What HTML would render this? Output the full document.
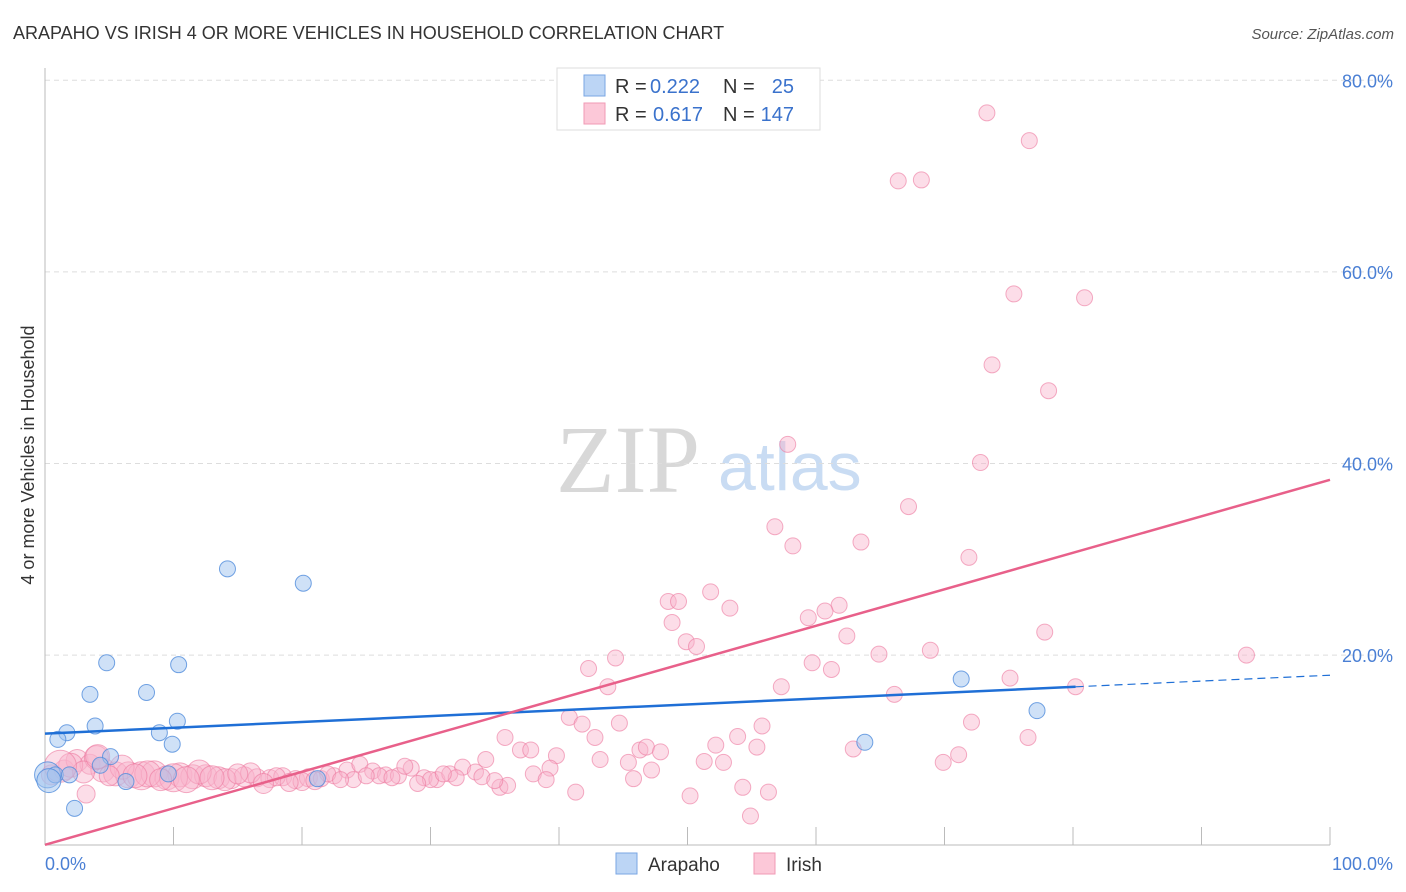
<!DOCTYPE html>
<html><head><meta charset="utf-8"><style>
body{margin:0;background:#fff;font-family:"Liberation Sans",sans-serif}
svg{display:block}
</style></head><body>
<svg width="1406" height="892" id="chart">
<text x="13" y="39" font-size="18" fill="#333">ARAPAHO VS IRISH 4 OR MORE VEHICLES IN HOUSEHOLD CORRELATION CHART</text>
<text x="1394" y="39" font-size="15" fill="#555" font-style="italic" text-anchor="end">Source: ZipAtlas.com</text>
<text x="556" y="492" font-size="96" fill="#d8d8d8" font-family="Liberation Serif,serif">ZIP</text>
<text x="718" y="490" font-size="68" fill="#c9dcf3">atlas</text>
<g id="grid"></g>
<line x1="45" y1="68" x2="45" y2="845" stroke="#bbb"/>
<line x1="45" y1="845" x2="1330" y2="845" stroke="#bbb"/>
<g id="ticks"></g>
<g id="pts"></g>
<g id="lines"></g>
<text transform="translate(34,455) rotate(-90)" font-size="18" fill="#333" text-anchor="middle">4 or more Vehicles in Household</text>
<text x="45" y="870" font-size="18" fill="#4a7fd4">0.0%</text>
<text x="1393" y="870" font-size="18" fill="#4a7fd4" text-anchor="end">100.0%</text>
<g>
<rect x="557" y="68" width="263" height="62" fill="#fff" stroke="#ddd"/>
<rect x="584" y="75" width="21" height="21" fill="#bcd5f5" stroke="#7aa6e3"/>
<text x="615" y="93" font-size="20" fill="#333">R =</text>
<text x="650" y="93" font-size="20" fill="#3a72cc">0.222</text>
<text x="723" y="93" font-size="20" fill="#333">N =</text>
<text x="794" y="93" font-size="20" fill="#3a72cc" text-anchor="end">25</text>
<rect x="584" y="103" width="21" height="21" fill="#fcc8d8" stroke="#f09ab5"/>
<text x="615" y="121" font-size="20" fill="#333">R =</text>
<text x="653" y="121" font-size="20" fill="#3a72cc">0.617</text>
<text x="723" y="121" font-size="20" fill="#333">N =</text>
<text x="794" y="121" font-size="20" fill="#3a72cc" text-anchor="end">147</text>
</g>
<g><rect x="616" y="853" width="21" height="21" fill="#bcd5f5" stroke="#7aa6e3"/><text x="648" y="871" font-size="19" fill="#333">Arapaho</text></g>
<g><rect x="754" y="853" width="21" height="21" fill="#fcc8d8" stroke="#f09ab5"/><text x="786" y="871" font-size="19" fill="#333">Irish</text></g>
</svg>
<script>
const yTicks=[20,40,60,80];
const blueX=[14.2,20.1,4.8,10.4,3.5,7.9,3.9,10.3,1.7,1.0,8.9,9.9,5.1,4.3,0.2,0.8,1.9,6.3,9.6,21.2,2.3,71.3,77.2,63.8,0.3];
const blueY=[29.0,27.5,19.2,19.0,15.9,16.1,12.6,13.1,11.9,11.2,11.9,10.7,9.4,8.5,7.5,7.5,7.5,6.8,7.6,7.1,4.0,17.5,14.2,10.9,6.9];
const blueR=[8,8,8,8,8,8,8,8,8,8,8,8,8,8,13,8,8,8,8,8,8,8,8,8,12];
const pinkX=[73.3,76.6,66.4,68.2,75.4,80.9,73.7,78.1,57.8,72.8,67.2,56.8,58.2,63.5,71.9,51.8,48.5,49.3,53.3,61.8,60.7,59.4,48.8,62.4,77.8,49.9,50.7,64.9,68.9,93.5,44.4,42.3,59.7,61.2,75.1,43.8,57.3,80.2,66.1,40.8,41.8,44.7,55.8,72.1,35.8,42.8,53.9,76.5,52.2,55.4,62.9,46.3,46.8,47.9,37.0,37.8,39.8,71.1,69.9,34.3,43.2,45.4,51.3,52.8,47.2,39.3,45.8,35.4,41.3,50.2,54.3,56.3,54.9,
0.5,1.5,2.5,3.5,4.5,5.5,6.5,7.5,8.5,9.5,10.5,11.5,12.5,13.5,14.5,15.5,16.5,17.5,18.5,19.5,20.5,21.5,22.5,23.5,24.5,25.5,26.5,27.5,28.5,29.5,30.5,31.5,32.5,33.5,2.0,4.0,6.0,8.0,10.0,12.0,14.0,16.0,18.0,20.0,22.0,24.0,26.0,28.0,30.0,32.0,34.0,36.0,38.0,3.0,7.0,11.0,15.0,19.0,23.0,27.0,31.0,35.0,39.0,4.1,1.2,3.2,5.0,9.0,13.0,17.0,21.0,25.0,29.0];
const pinkY=[76.6,73.7,69.5,69.6,57.7,57.3,50.3,47.6,42.0,40.1,35.5,33.4,31.4,31.8,30.2,26.6,25.6,25.6,24.9,25.2,24.6,23.9,23.4,22.0,22.4,21.4,20.9,20.1,20.5,20.0,19.7,18.6,19.2,18.5,17.6,16.7,16.7,16.7,15.9,13.5,12.8,12.9,12.6,13.0,11.4,11.4,11.5,11.4,10.6,10.4,10.2,10.1,10.4,9.9,10.1,10.1,9.5,9.6,8.8,9.1,9.1,8.8,8.9,8.8,8.0,8.2,7.1,6.2,5.7,5.3,6.2,5.7,3.2,
7.5,8.0,9.0,8.6,8.0,7.6,7.5,7.4,7.6,7.2,7.5,7.3,7.4,7.2,7.1,7.3,7.2,7.1,7.3,7.0,7.2,7.1,7.4,8.0,8.6,7.9,7.5,7.4,8.2,7.2,7.0,7.6,8.3,7.8,8.5,9.3,8.3,7.6,7.2,7.8,7.0,7.7,7.3,6.8,7.6,7.0,7.4,8.4,7.0,7.2,7.3,6.4,7.6,7.8,7.4,7.0,7.6,6.7,7.0,7.2,7.6,6.9,7.0,9.4,8.4,5.5,7.4,7.0,7.2,6.6,6.9,7.4,6.6];
const pinkR=[8,8,8,8,8,8,8,8,8,8,8,8,8,8,8,8,8,8,8,8,8,8,8,8,8,8,8,8,8,8,8,8,8,8,8,8,8,8,8,8,8,8,8,8,8,8,8,8,8,8,8,8,8,8,8,8,8,8,8,8,8,8,8,8,8,8,8,8,8,8,8,8,8,
10,10,11,10,12,12,13,14,13,12,12,12,11,11,10,10,9,9,9,9,9,8,8,8,8,8,8,8,8,8,8,8,8,8,12,12,12,13,14,12,11,10,9,9,8,8,8,8,8,8,8,8,8,11,12,13,10,9,8,8,8,8,8,12,16,9,10,11,12,10,9,8,8];
const blueTrend=[11.8,17.9];
const pinkTrend=[0.2,38.3];
const NS='http://www.w3.org/2000/svg';
const sx=v=>45+v*12.85, sy=v=>846.7-v*9.58;
function mk(t,a,p){const e=document.createElementNS(NS,t);for(const k in a)e.setAttribute(k,a[k]);p.appendChild(e);return e;}
const grid=document.getElementById('grid');
yTicks.forEach(t=>{
 const l=mk('line',{x1:45,x2:1395,y1:sy(t),y2:sy(t),stroke:'#ddd','stroke-dasharray':'5,4'},grid);
 
 
 const tx=mk('text',{x:1393,y:sy(t)+7,'font-size':18,fill:'#4a7fd4','text-anchor':'end'},grid);
 tx.textContent=t.toFixed(1)+'%';
 
 
});
const ticks=document.getElementById('ticks');
for(let i=1;i<=10;i++){
 const l=mk('line',{x1:sx(i*10),x2:sx(i*10),y1:827,y2:845,stroke:'#bbb'},ticks);
 
 
}
const pts=document.getElementById('pts');
pinkX.forEach((x,i)=>{
 const c=mk('circle',{cx:sx(x),cy:sy(pinkY[i]),r:pinkR[i],fill:'rgba(248,180,204,0.45)',stroke:'rgba(236,120,158,0.6)','stroke-width':1},pts);
 
 
});
blueX.forEach((x,i)=>{
 const c=mk('circle',{cx:sx(x),cy:sy(blueY[i]),r:blueR[i],fill:'rgba(160,195,240,0.5)',stroke:'rgba(80,140,220,0.8)','stroke-width':1},pts);
 
 
});
const ln=document.getElementById('lines');
const bAt=v=>blueTrend[0]+(blueTrend[1]-blueTrend[0])*v/100;
let l1=mk('line',{x1:sx(0),y1:sy(bAt(0)),x2:sx(80.2),y2:sy(bAt(80.2)),stroke:'#1f6fd6','stroke-width':2.5},ln);


let l2=mk('line',{x1:sx(80.2),y1:sy(bAt(80.2)),x2:sx(100),y2:sy(bAt(100)),stroke:'#1f6fd6','stroke-width':1.2,'stroke-dasharray':'8,5'},ln);


let l3=mk('line',{x1:sx(0),y1:sy(pinkTrend[0]),x2:sx(100),y2:sy(pinkTrend[1]),stroke:'#e8608a','stroke-width':2.5},ln);


</script>
</body></html>
